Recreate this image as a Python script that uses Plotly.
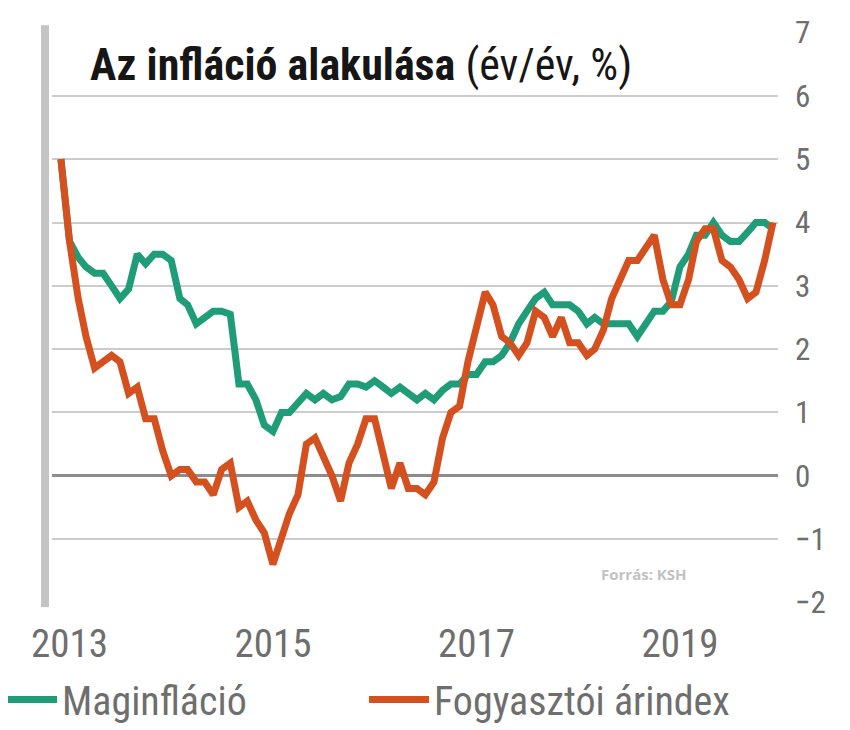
import plotly.graph_objects as go
import pandas as pd

# monthly y/y inflation, Dec 2012 - Dec 2019 (KSH)
months = pd.date_range('2012-12-01', periods=85, freq='MS')

core = [5.0,
        3.7, 3.45, 3.3, 3.2, 3.2, 3.0, 2.8, 2.95, 3.5, 3.35, 3.5, 3.5,
        3.4, 2.8, 2.7, 2.4, 2.5, 2.6, 2.6, 2.55, 1.45, 1.45, 1.2, 0.8,
        0.7, 1.0, 1.0, 1.15, 1.3, 1.2, 1.3, 1.2, 1.25, 1.45, 1.45, 1.4,
        1.5, 1.4, 1.3, 1.4, 1.3, 1.2, 1.3, 1.2, 1.35, 1.45, 1.45, 1.6,
        1.6, 1.8, 1.8, 1.9, 2.1, 2.4, 2.6, 2.8, 2.9, 2.7, 2.7, 2.7,
        2.6, 2.4, 2.5, 2.4, 2.4, 2.4, 2.4, 2.2, 2.4, 2.6, 2.6, 2.75,
        3.3, 3.5, 3.8, 3.8, 4.0, 3.8, 3.7, 3.7, 3.85, 4.0, 4.0, 3.9]

cpi = [5.0,
       3.7, 2.8, 2.2, 1.7, 1.8, 1.9, 1.8, 1.3, 1.4, 0.9, 0.9, 0.4,
       0.0, 0.1, 0.1, -0.1, -0.1, -0.3, 0.1, 0.2, -0.5, -0.4, -0.7, -0.9,
       -1.4, -1.0, -0.6, -0.3, 0.5, 0.6, 0.3, 0.0, -0.4, 0.2, 0.5, 0.9,
       0.9, 0.3, -0.2, 0.2, -0.2, -0.2, -0.3, -0.1, 0.6, 1.0, 1.1, 1.8,
       2.3, 2.9, 2.7, 2.2, 2.1, 1.9, 2.1, 2.6, 2.5, 2.2, 2.5, 2.1,
       2.1, 1.9, 2.0, 2.3, 2.8, 3.1, 3.4, 3.4, 3.6, 3.8, 3.1, 2.7,
       2.7, 3.1, 3.7, 3.9, 3.9, 3.4, 3.3, 3.1, 2.8, 2.9, 3.4, 4.0]

tick_dates = ['2013-01-01', '2015-01-01', '2017-01-01', '2019-01-01']
tick_labels = ['2013', '2015', '2017', '2019']
y_ticks = list(range(-2, 8))

green = '#1f9c78'
red = '#d5501f'
narrow = 'Roboto Condensed, Liberation Sans Narrow, DejaVu Sans Condensed, Liberation Sans, sans-serif'

fig = go.Figure()

fig.add_trace(go.Scatter(
    x=months, y=core, name='Maginfláció', mode='lines',
    line=dict(color=green, width=7),
))
fig.add_trace(go.Scatter(
    x=months, y=cpi, name='Fogyasztói árindex', mode='lines',
    line=dict(color=red, width=7),
))

# gray bar on the left edge
fig.add_shape(type='line', xref='paper', yref='paper',
              x0=-0.0096, x1=-0.0096, y0=-0.007, y1=1.012,
              line=dict(color='#c4c4c4', width=8), layer='below')

fig.add_annotation(
    text='<b>Az infláció alakulása</b> (év/év, %)',
    xref='paper', yref='paper', x=0.05, y=0.942,
    xanchor='left', yanchor='middle', showarrow=False,
    font=dict(size=44, color='#161616', family=narrow),
)
fig.add_annotation(
    text='<b>Forrás: KSH</b>',
    xref='paper', yref='paper', x=0.877, y=0.05,
    xanchor='right', yanchor='middle', showarrow=False,
    font=dict(size=15, color='#c2c2c2', family='Open Sans, sans-serif'),
)

fig.update_xaxes(
    range=['2012-10-30', '2019-12-19'],
    tickvals=tick_dates, ticktext=tick_labels,
    showgrid=False, zeroline=False, showline=False,
    ticks='', ticklabelstandoff=14,
    tickfont=dict(size=39, color='#6e6e6e', family=narrow),
)
fig.update_yaxes(
    range=[-2.01, 7.01], side='right',
    tickvals=y_ticks,
    showgrid=True, gridcolor='#cccccc', gridwidth=2,
    zeroline=True, zerolinecolor='#8c8c8c', zerolinewidth=2.5,
    showline=False, ticks='', ticklabelstandoff=16,
    tickfont=dict(size=31, color='#6e6e6e', family=narrow),
)

fig.update_layout(
    width=850, height=730,
    paper_bgcolor='white', plot_bgcolor='white',
    margin=dict(l=44, r=80, t=24, b=135, autoexpand=False),
    showlegend=True,
    legend=dict(
        orientation='h', x=-0.0826, y=-0.112, xanchor='left', yanchor='top',
        itemwidth=60, entrywidth=297, traceorder='normal',
        font=dict(size=40, color='#6e6e6e', family=narrow),
        bgcolor='rgba(0,0,0,0)',
    ),
)

fig.write_html('out.html')
